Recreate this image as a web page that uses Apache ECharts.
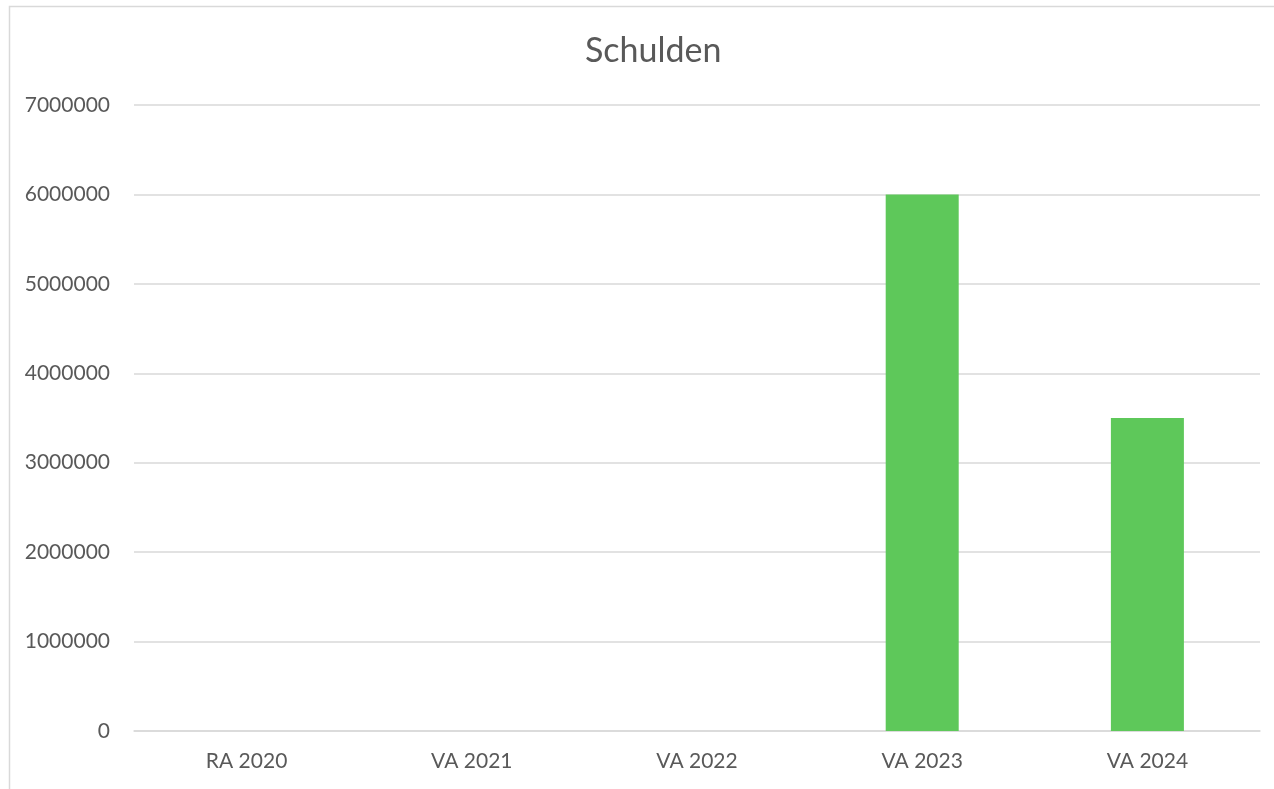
<!DOCTYPE html>
<html>
<head>
<meta charset="utf-8">
<title>Schulden</title>
<script src="https://cdn.jsdelivr.net/npm/echarts@6/dist/echarts.min.js"></script>
<style>
  html, body { margin: 0; padding: 0; background: #fff; }
  #chart { width: 1274px; height: 789px; }
</style>
</head>
<body>
<div id="chart"></div>
<script>
// chart data
const categories = ['RA 2020', 'VA 2021', 'VA 2022', 'VA 2023', 'VA 2024']
const schulden = [0, 0, 0, 6000000, 3500000]
const yMin = 0
const yMax = 7000000
const yStep = 1000000

const chart = echarts.init(document.getElementById('chart'))

const option = {
    animation: false,
    textStyle: { fontFamily: 'Lato, sans-serif' },
    title: {
        text: 'Schulden',
        left: 580,
        top: 29,
        textStyle: {
            color: '#595959',
            fontSize: 34,
            fontWeight: 'normal',
            fontFamily: 'Lato, sans-serif'
        }
    },
    graphic: [
        {
            type: 'rect',
            shape: { x: 9.5, y: 6.5, width: 1400, height: 900 },
            style: { fill: 'none', stroke: '#d9d9d9', lineWidth: 1.5 },
            silent: true
        }
    ],
    grid: {
        left: 134,
        right: 14,
        top: 105,
        bottom: 58
    },
    xAxis: {
        type: 'category',
        data: categories,
        axisLine: { lineStyle: { color: '#d9d9d9', width: 1.5 } },
        axisTick: { show: false },
        axisLabel: { color: '#595959', fontSize: 21, margin: 20 }
    },
    yAxis: {
        type: 'value',
        min: yMin,
        max: yMax,
        interval: yStep,
        axisLine: { show: false },
        axisTick: { show: false },
        axisLabel: {
            color: '#595959',
            fontSize: 21,
            margin: 24,
            formatter: function (v) { return String(v) }
        },
        splitLine: { lineStyle: { color: '#d9d9d9', width: 1.5 } }
    },
    series: [
        {
            name: 'Schulden',
            type: 'bar',
            data: schulden,
            barWidth: 73,
            itemStyle: { color: '#5EC85A' }
        }
    ]
}

chart.setOption(option)
</script>
</body>
</html>
